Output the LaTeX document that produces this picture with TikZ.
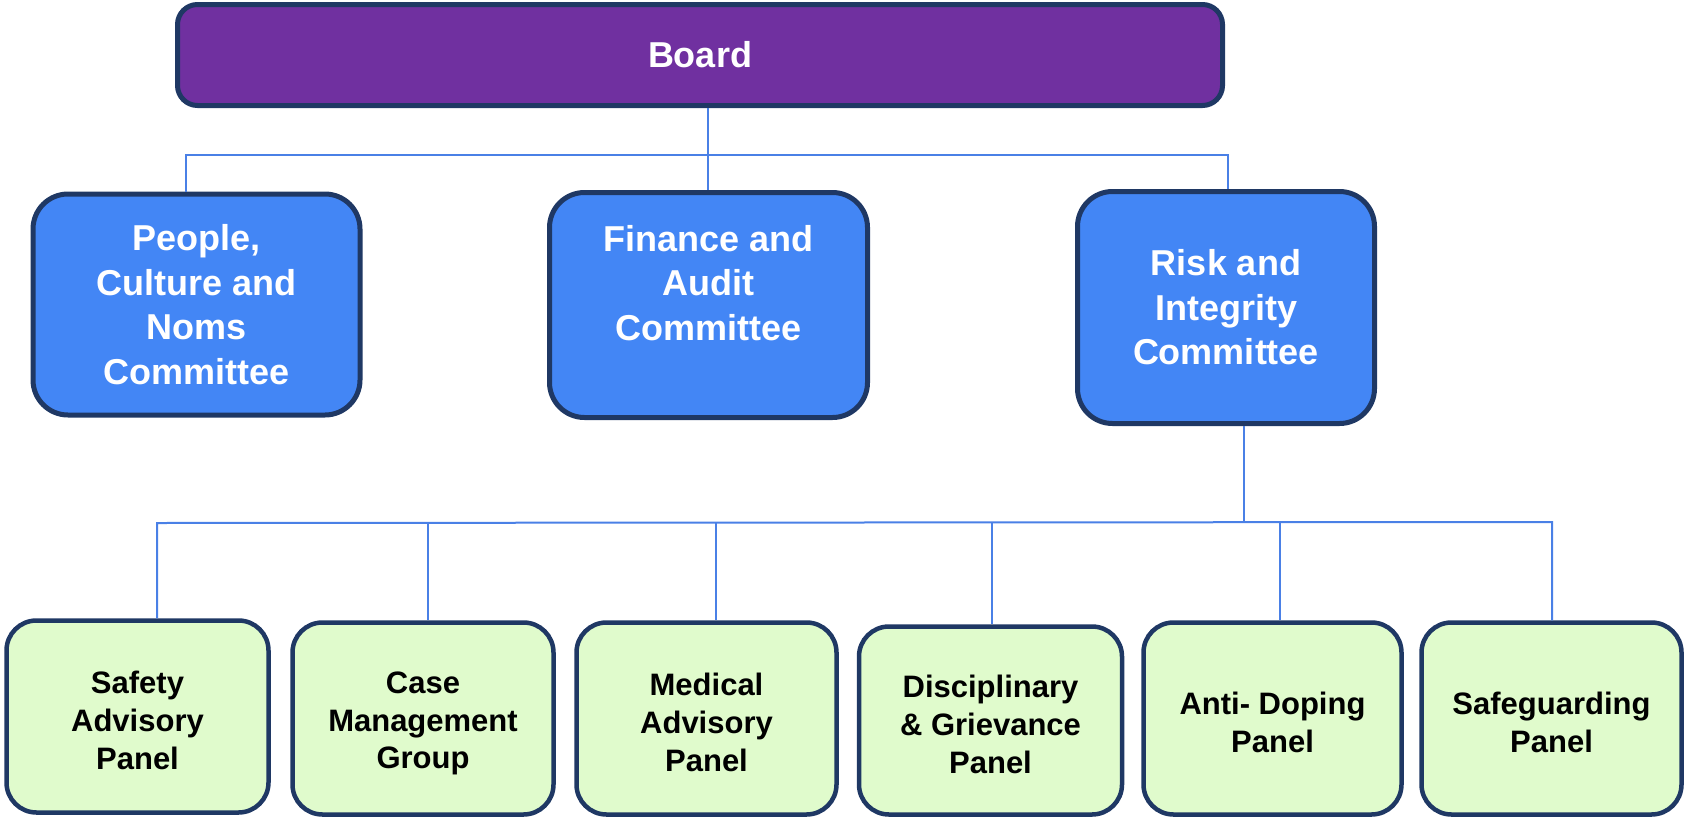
\documentclass[tikz,border=0pt]{standalone}
\usepackage{fontspec}
\setmainfont{Liberation Sans}
\definecolor{navy}{HTML}{1F3864}
\definecolor{boardpurple}{HTML}{7030A0}
\definecolor{comblue}{HTML}{4386F5}
\definecolor{panelgreen}{HTML}{E0FBCC}
\definecolor{linkblue}{HTML}{4A80E6}
\tikzset{
  boardbox/.style={draw=navy, line width=5pt, fill=boardpurple, rounded corners=20pt,
    text=white, font=\bfseries\fontsize{36}{45}\selectfont, inner sep=0pt},
  combox/.style={draw=navy, line width=5pt, fill=comblue, rounded corners=35pt,
    text=white, font=\bfseries\fontsize{36}{44.5}\selectfont, align=center, inner sep=0pt},
  comtext/.style={text=white, font=\bfseries\fontsize{36}{44.5}\selectfont, align=center, inner sep=0pt},
  panelbox/.style={draw=navy, line width=4.5pt, fill=panelgreen, rounded corners=30pt, inner sep=0pt},
  paneltext/.style={text=black, font=\bfseries\fontsize{31}{37.7}\selectfont, align=center, inner sep=0pt},
  conn/.style={draw=linkblue, line width=2pt}
}
\begin{document}
\begin{tikzpicture}[x=1pt,y=-1pt]
\useasboundingbox (0,0) rectangle (1686,819);
% top level
\node[boardbox, minimum width=1045pt, minimum height=101pt] (board) at (700,55) {Board};
% committees
\node[combox, minimum width=327pt, minimum height=221pt] (ppl) at (196.5,304.5) {People,\\Culture and\\Noms\\Committee};
\node[combox, minimum width=318pt, minimum height=225pt] (fin) at (708.5,305) {};
\node[comtext] (fintext) at (708.5,283) {Finance and\\Audit\\Committee};
\node[combox, minimum width=297pt, minimum height=232pt] (risk) at (1226,307.5) {Risk and\\Integrity\\Committee};
% panels
\node[panelbox, minimum width=262pt, minimum height=192pt] (p1) at (137.5,716.5) {};
\node[panelbox, minimum width=261pt, minimum height=192pt] (p2) at (423,718.5) {};
\node[panelbox, minimum width=260pt, minimum height=192pt] (p3) at (706.5,718.5) {};
\node[panelbox, minimum width=263pt, minimum height=188pt] (p4) at (990.5,720.5) {};
\node[panelbox, minimum width=258pt, minimum height=192pt] (p5) at (1272.5,718.5) {};
\node[panelbox, minimum width=260pt, minimum height=192pt] (p6) at (1551.5,718.5) {};
\node[paneltext] (t1) at ([yshift=-4pt]p1.center) {Safety\\Advisory\\Panel};
\node[paneltext] (t2) at ([yshift=-5pt]p2.center) {Case\\Management\\Group};
\node[paneltext] (t3) at ([yshift=-4pt]p3.center) {Medical\\Advisory\\Panel};
\node[paneltext] (t4) at ([yshift=-4pt]p4.center) {Disciplinary\\\& Grievance\\Panel};
\node[paneltext] (t5) at ([yshift=-4pt]p5.center) {Anti- Doping\\Panel};
\node[paneltext] (t6) at ([yshift=-4pt]p6.center) {Safeguarding\\Panel};
% junction coordinates
\coordinate (bj) at (708,155);
\coordinate (tl) at (186,155);
\coordinate (tr) at (1228,155);
\coordinate (rj) at (1244,523);
\coordinate (bl) at (157,523);
\coordinate (br) at (1552,522);
% connectors
\draw[conn] (board.south -| bj) -- (fin.north -| bj);
\draw[conn] (ppl.north -| tl) -- (tl) -- (tr) -- (risk.north -| tr);
\draw[conn] (risk.south -| rj) -- (rj);
\draw[conn] (p1.north -| bl) -- (bl) -- (br) -- (p6.north -| br);
\draw[conn] (p2.north -| 428,0) -- (428,523);
\draw[conn] (p3.north -| 716,0) -- (716,523);
\draw[conn] (p4.north -| 992,0) -- (992,523);
\draw[conn] (p5.north -| 1280,0) -- (1280,522.5);
\end{tikzpicture}
\end{document}
